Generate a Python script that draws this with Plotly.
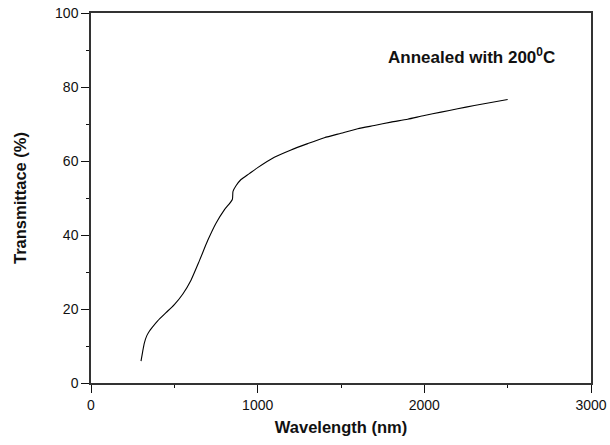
import plotly.graph_objects as go

wavelength = [300, 310, 320, 335, 350, 365, 400, 450, 500, 550, 600, 650, 700, 750,
              800, 848, 852, 870, 900, 950, 1000, 1100, 1200, 1300, 1400, 1500, 1600,
              1700, 1800, 1900, 2000, 2100, 2200, 2300, 2400, 2500]
transmittance = [5.9, 8.5, 10.8, 12.8, 14.0, 14.9, 16.8, 19.0, 21.2, 24.0, 27.8, 33.0,
                 38.5, 43.2, 46.8, 49.6, 51.8, 53.3, 55.0, 56.6, 58.2, 61.0, 63.0, 64.7,
                 66.3, 67.5, 68.7, 69.6, 70.5, 71.3, 72.3, 73.2, 74.1, 75.0, 75.8, 76.6]

font_family = "Liberation Sans, Arial, sans-serif"

fig = go.Figure()
fig.add_trace(go.Scatter(x=wavelength, y=transmittance, mode="lines",
                         line=dict(color="black", width=1.1, shape="spline", smoothing=0.6),
                         showlegend=False))

axis_common = dict(
    showline=True, linecolor="#333333", linewidth=1.5, mirror=True,
    ticks="outside", ticklen=8, tickwidth=1.3, tickcolor="#111111",
    showgrid=False, zeroline=False, automargin=False,
    tickfont=dict(family=font_family, size=14, color="#111111"),
)

fig.update_xaxes(range=[0, 3000], tickvals=[0, 1000, 2000, 3000],
                 minor=dict(ticks="outside", ticklen=3, tickwidth=1.3, dtick=500, tickcolor="#111111"),
                 title=dict(text="<b>Wavelength (nm)</b>",
                            font=dict(family=font_family, size=16.5, color="#111111"), standoff=10),
                 **axis_common)
fig.update_yaxes(range=[0, 100], tickvals=[0, 20, 40, 60, 80, 100],
                 minor=dict(ticks="outside", ticklen=3, tickwidth=1.3, dtick=10, tickcolor="#111111"),
                 title=dict(text="<b>Transmittace (%)</b>",
                            font=dict(family=font_family, size=16.5, color="#111111"), standoff=24),
                 **axis_common)

fig.add_annotation(x=2283, y=88.5, xref="x", yref="y",
                   text="<b>Annealed with 200<sup>0</sup>C</b>", showarrow=False,
                   font=dict(family=font_family, size=17, color="#111111"))

fig.update_layout(width=610, height=445, plot_bgcolor="white", paper_bgcolor="white",
                  margin=dict(l=91, r=19, t=13, b=62))

fig.write_html("out.html", config={"displayModeBar": False},
               post_script="document.body.style.margin='0';document.body.style.overflow='hidden';")
